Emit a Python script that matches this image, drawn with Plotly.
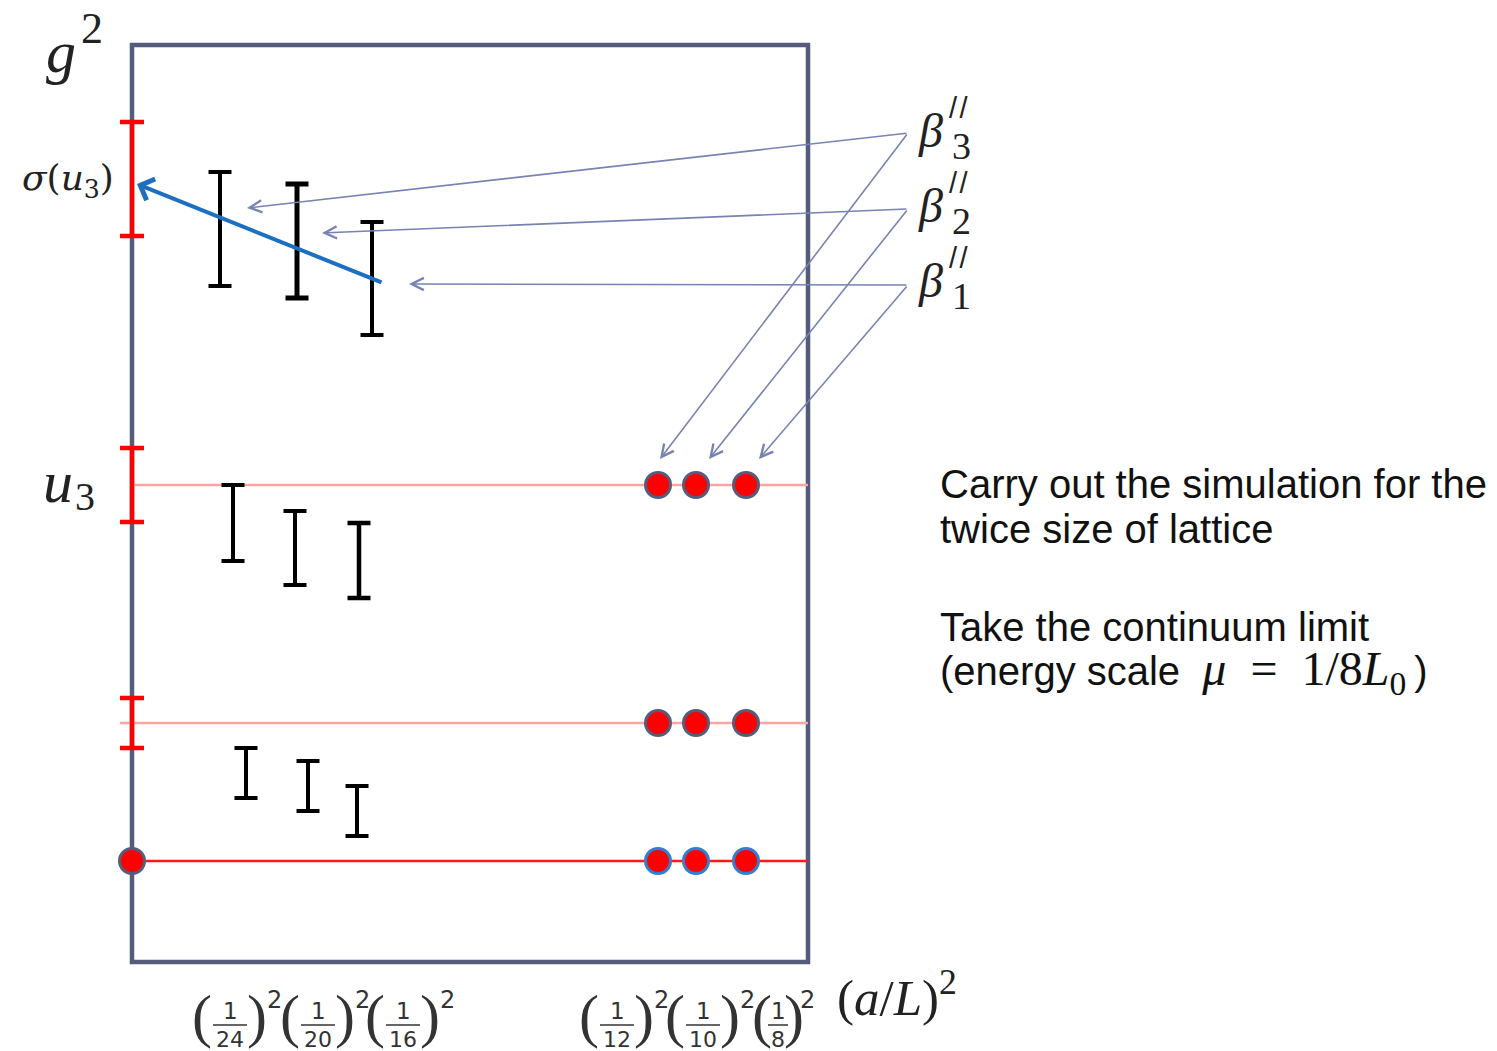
import plotly.graph_objects as go

# Schematic coordinates: x grows to the right from the left edge of the frame,
# y grows upward from the bottom edge of the frame (arbitrary units).
FRAME_X = [0, 676]
FRAME_Y = [0, 917]

# Red error bars sitting on the g^2 axis (centre, half-width)
axis_bar_y = [783, 477, 239]
axis_bar_err = [57, 37, 25]

# Horizontal reference levels
level_y = [477, 239, 101]
level_x0 = [0, -12, 0]
level_colors = ["#ffa3a3", "#ffa3a3", "#ff1a1a"]

# Continuum-limit points on each level (a/L = 1/12, 1/10, 1/8)
dot_x = [526, 564, 614]
dot_outline = ["#555d7c", "#555d7c", "#2f80d2"]

# Step-scaling results on the doubled lattices (three groups of three)
step_x = [[88, 165, 240], [101, 163, 227], [114, 176, 225]]
step_y = [[733, 721, 683.5], [439, 414, 401.5], [189, 176, 151]]
step_err = [[57, 57, 56.5], [38, 37, 37.5], [25, 25, 25]]
step_thick = [[4, 5, 4], [4, 4, 4.5], [4, 4, 4]]

# Extrapolation to the continuum (blue arrow): tail -> head
blue_tail = (251, 679)
blue_head = (5, 778)

# beta'' labels and their arrows
beta_sub = ["3", "2", "1"]
beta_y = [832, 757, 682]
beta_x = 784
beta_apex = [(776, 829), (776, 753), (776, 677)]
beta_head_left = [(115, 754), (190, 729), (277, 678)]
beta_head_dot = [(528, 503), (577, 503), (627, 503)]

# Tick labels on the (a/L)^2 axis: (1/L)^2
tick_denoms = [24, 20, 16, 12, 10, 8]
tick_x = [98, 186, 271, 485, 571, 646]

# Explanatory text at the right
notes = [
    "Carry out the simulation for the",
    "twice size of lattice",
    "Take the continuum limit",
    "(energy scale  <span style=\"font-family:'Liberation Serif';font-size:48px\">"
    "<i>μ</i>\u2002=\u20021/8<i>L</i><sub>0</sub></span>\u2009)",
]
notes_y = [478, 433, 335, 290]

FRAME_COLOR = "#545b7b"
ARROW_COLOR = "#7783b3"
SERIF = "Liberation Serif"
SANS = "Liberation Sans"
INK = "#222"

fig = go.Figure()

# Frame
fig.add_shape(type="rect", x0=FRAME_X[0], x1=FRAME_X[1], y0=FRAME_Y[0], y1=FRAME_Y[1],
              line=dict(color=FRAME_COLOR, width=4.5), layer="below")

# Reference levels
for y, x0, c in zip(level_y, level_x0, level_colors):
    fig.add_trace(go.Scatter(x=[x0, FRAME_X[1]], y=[y, y], mode="lines",
                             line=dict(color=c, width=2.5), hoverinfo="skip"))

# Axis error bars
fig.add_trace(go.Scatter(
    x=[0] * len(axis_bar_y), y=axis_bar_y, mode="markers",
    marker=dict(size=1, opacity=0),
    error_y=dict(type="data", array=axis_bar_err, color="#ff0000", thickness=4.5, width=12),
    hoverinfo="skip"))

# Step-scaling error bars
for xs, ys, es, ts in zip(step_x, step_y, step_err, step_thick):
    for x, y, e, t in zip(xs, ys, es, ts):
        fig.add_trace(go.Scatter(
            x=[x], y=[y], mode="markers", marker=dict(size=1, opacity=0),
            error_y=dict(type="data", array=[e], color="#000000", thickness=t, width=11.5),
            hoverinfo="skip"))

# Continuum points
for y, oc in zip(level_y, dot_outline):
    fig.add_trace(go.Scatter(x=dot_x, y=[y] * len(dot_x), mode="markers",
                             marker=dict(size=25, color="#ff0000", line=dict(color=oc, width=3)),
                             hoverinfo="skip"))
fig.add_trace(go.Scatter(x=[0], y=[level_y[-1]], mode="markers",
                         marker=dict(size=25, color="#ff0000", line=dict(color="#555d7c", width=3)),
                         hoverinfo="skip"))

# Blue extrapolation arrow
fig.add_annotation(x=blue_head[0], y=blue_head[1], ax=blue_tail[0], ay=blue_tail[1],
                   xref="x", yref="y", axref="x", ayref="y", text="", showarrow=True,
                   arrowhead=4, arrowsize=1.1, arrowwidth=4, arrowcolor="#1d6fc1")

# beta'' arrows
for apex, hl, hd in zip(beta_apex, beta_head_left, beta_head_dot):
    for head in (hl, hd):
        fig.add_annotation(x=head[0], y=head[1], ax=apex[0], ay=apex[1],
                           xref="x", yref="y", axref="x", ayref="y", text="", showarrow=True,
                           arrowhead=5, arrowsize=1.5, arrowwidth=1.6, arrowcolor=ARROW_COLOR)

# beta'' labels
for s, y in zip(beta_sub, beta_y):
    fig.add_annotation(x=beta_x, y=y, text="<i>β</i>", showarrow=False, xanchor="left",
                       font=dict(family=SERIF, size=48, color=INK))
    fig.add_annotation(x=beta_x, y=y, text="/\u200a/", showarrow=False, xanchor="left",
                       xshift=31, yshift=22, font=dict(family=SANS, size=29, color=INK))
    fig.add_annotation(x=beta_x, y=y, text=s, showarrow=False, xanchor="left",
                       xshift=34, yshift=-16, font=dict(family=SERIF, size=38, color=INK))

# Axis labels
fig.add_annotation(x=-71, y=910, text="<i>g</i>", showarrow=False,
                   font=dict(family=SERIF, size=60, color=INK))
fig.add_annotation(x=-40, y=934, text="2", showarrow=False,
                   font=dict(family=SERIF, size=44, color=INK))
fig.add_annotation(x=-64, y=782, text="<i>σ</i>(<i>u</i><sub>3</sub>)", showarrow=False,
                   font=dict(family="DejaVu Serif", size=36, color=INK))
fig.add_annotation(x=-74, y=480, text="<i>u</i>", showarrow=False,
                   font=dict(family=SERIF, size=60, color=INK))
fig.add_annotation(x=-47, y=466, text="3", showarrow=False,
                   font=dict(family=SERIF, size=40, color=INK))
fig.add_annotation(x=765, y=-32, text="(<i>a</i>/<i>L</i>)<sup>2</sup>", showarrow=False,
                   font=dict(family=SERIF, size=51, color=INK))

# Fraction tick labels
TICK_COLOR = "#333"
for d, x in zip(tick_denoms, tick_x):
    two = d >= 10
    half = 17 if two else 10
    lp, rp, sp = (28, 27, 44) if two else (16, 16, 29)
    fig.add_annotation(x=x, y=-49, text="1", showarrow=False,
                       font=dict(family="DejaVu Sans", size=23, color=TICK_COLOR))
    fig.add_annotation(x=x, y=-77, text=str(d), showarrow=False,
                       font=dict(family="DejaVu Sans", size=22, color=TICK_COLOR))
    fig.add_shape(type="line", xref="x", yref="y", xsizemode="pixel", xanchor=x,
                  x0=-half, x1=half, y0=-63, y1=-63, line=dict(color=TICK_COLOR, width=1.5))
    fig.add_annotation(x=x, y=-54, text="(", showarrow=False, xshift=-lp,
                       font=dict(family=SERIF, size=60, color=TICK_COLOR))
    fig.add_annotation(x=x, y=-54, text=")", showarrow=False, xshift=rp,
                       font=dict(family=SERIF, size=60, color=TICK_COLOR))
    fig.add_annotation(x=x, y=-38, text="2", showarrow=False, xshift=sp,
                       font=dict(family="DejaVu Sans", size=24, color=TICK_COLOR))

# Notes
for t, y in zip(notes, notes_y):
    fig.add_annotation(x=806, y=y, text=t, showarrow=False, xanchor="left",
                       font=dict(family=SANS, size=40, color="#111"))

fig.update_layout(
    width=1497, height=1051,
    margin=dict(l=0, r=0, t=0, b=0),
    paper_bgcolor="white", plot_bgcolor="white",
    showlegend=False,
    xaxis=dict(range=[-132, 1365], visible=False, fixedrange=True),
    yaxis=dict(range=[-89, 962], visible=False, fixedrange=True),
)

fig.write_html("out.html")
